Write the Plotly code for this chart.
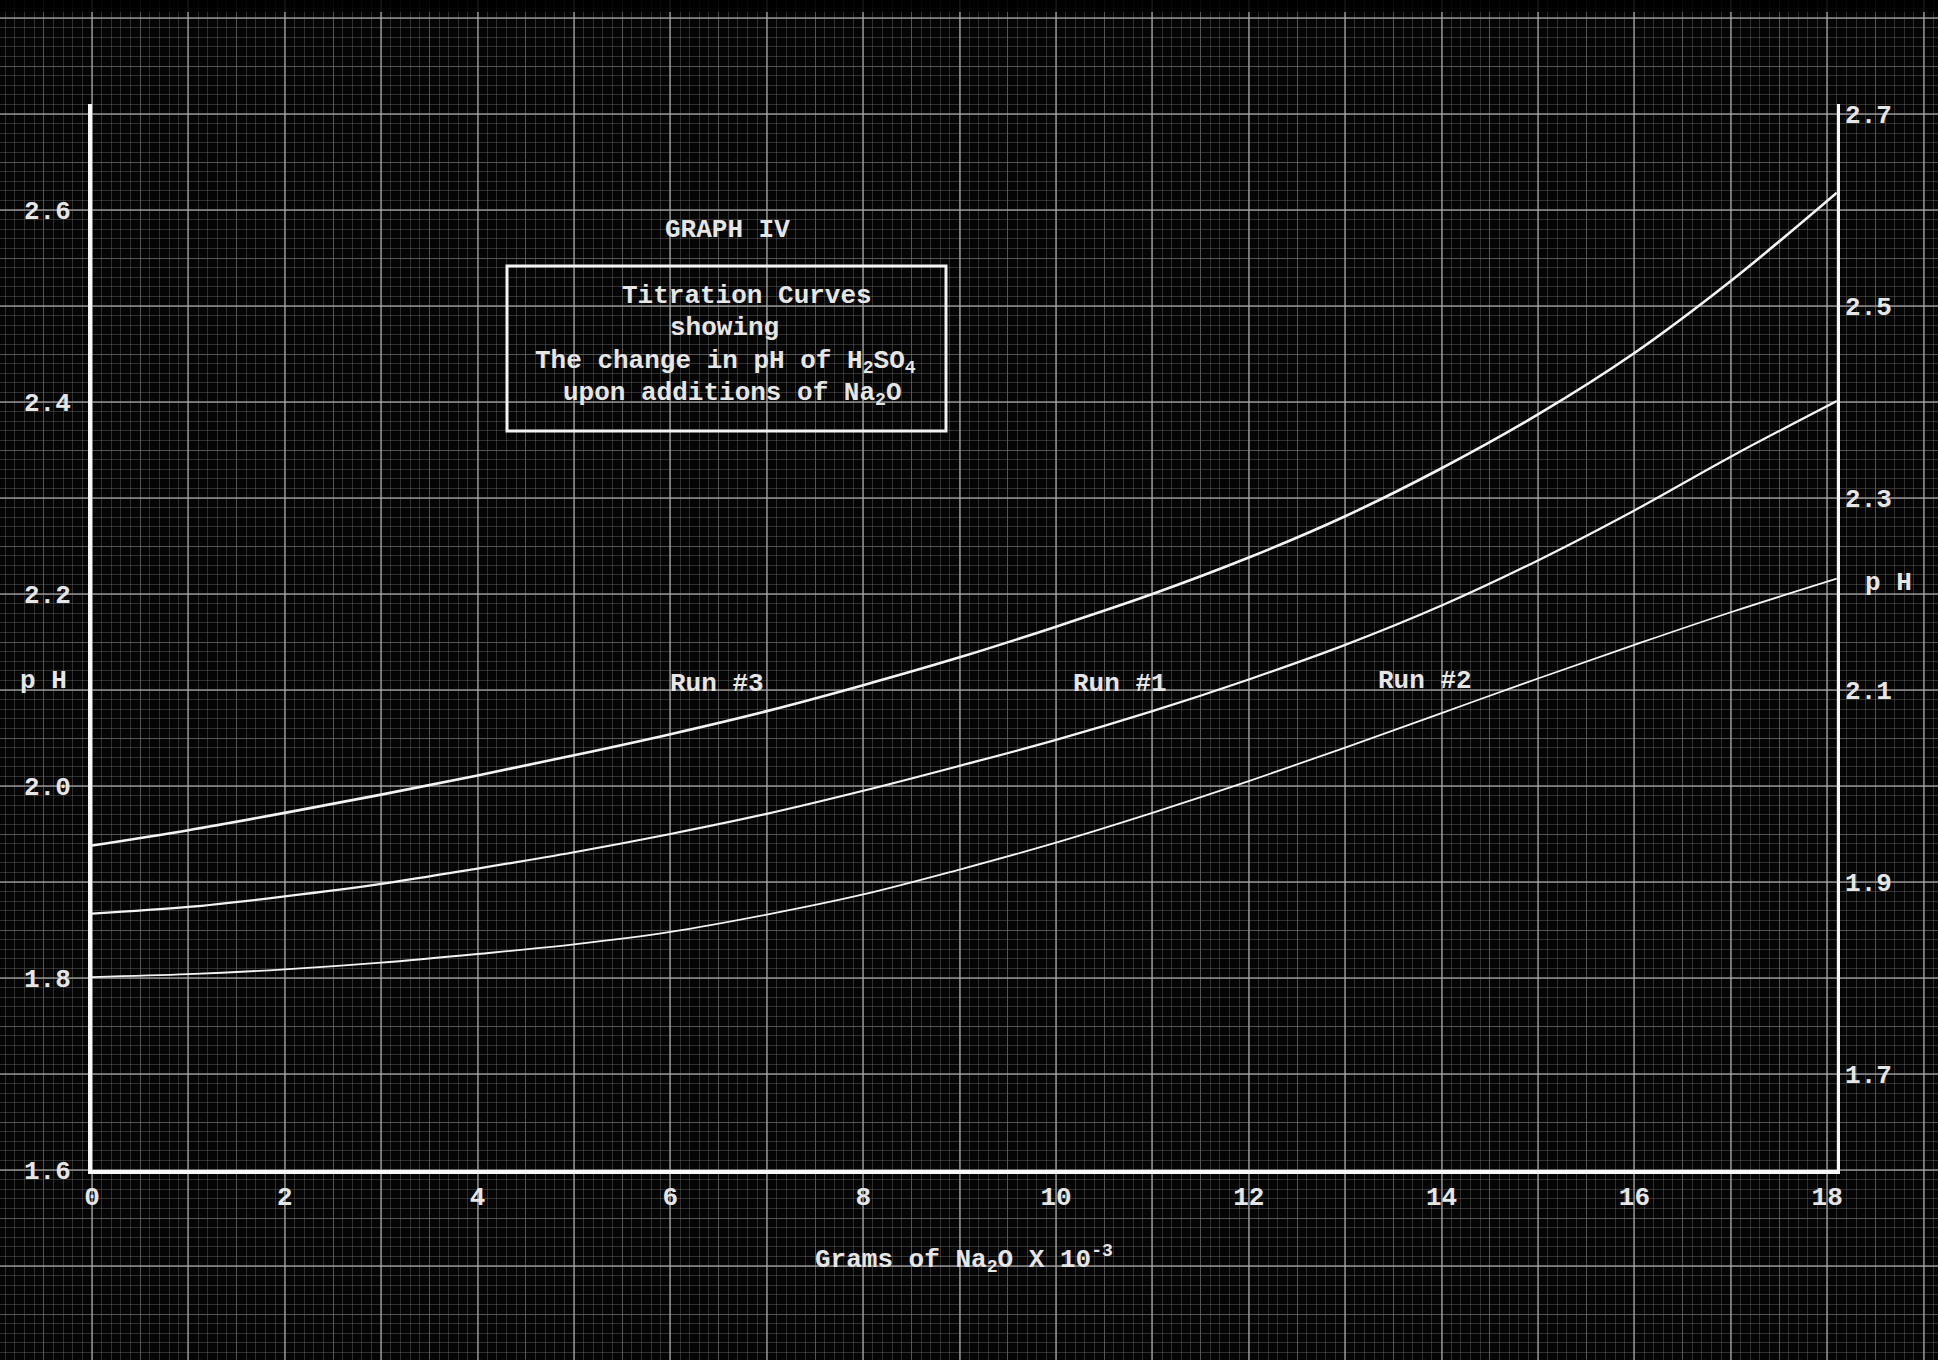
import plotly.graph_objects as go

# Titration readings: grams of Na2O (x 10^-3) added vs. measured pH
grams = [0, 1, 2, 3, 4, 5, 6, 7, 8, 9, 10, 11, 12, 13, 14, 15, 16, 17, 18.1]
ph_run3 = [1.938, 1.954, 1.972, 1.991, 2.011, 2.032, 2.054, 2.078, 2.105, 2.134,
           2.166, 2.200, 2.238, 2.281, 2.331, 2.387, 2.451, 2.526, 2.618]
ph_run1 = [1.867, 1.874, 1.885, 1.898, 1.914, 1.931, 1.950, 1.971, 1.995, 2.021,
           2.048, 2.078, 2.111, 2.147, 2.188, 2.235, 2.287, 2.343, 2.401]
ph_run2 = [1.801, 1.804, 1.809, 1.816, 1.825, 1.835, 1.848, 1.866, 1.887, 1.913,
           1.941, 1.972, 2.005, 2.040, 2.076, 2.112, 2.147, 2.181, 2.216]

x_tick_vals = [0, 2, 4, 6, 8, 10, 12, 14, 16, 18]
left_tick_vals = [1.6, 1.8, 2.0, 2.2, 2.4, 2.6]
right_tick_vals = [1.7, 1.9, 2.1, 2.3, 2.5, 2.7]

run_labels = ["Run #3", "Run #1", "Run #2"]

# ---- page geometry (pixels) ----
W, H = 1938, 1360
X0_PX = 92          # x = 0 on the page
Y0_PX = 1170        # pH = 1.6 on the page
PX_PER_GRAM = 96.4
PX_PER_PH = 960.0
X_RANGE = [0, 18.1]
Y_RANGE = [1.6, 2.71]

TYPE = "Liberation Mono"
INK = "#e6e6e6"
BG = "#050505"


def px_x(g):
    return X0_PX + (g - X_RANGE[0]) * PX_PER_GRAM


def px_y(p):
    return Y0_PX - (p - Y_RANGE[0]) * PX_PER_PH


# plot box as a fraction of the page
dom_x = [px_x(X_RANGE[0]) / W, px_x(X_RANGE[1]) / W]
dom_y = [1 - px_y(Y_RANGE[0]) / H, 1 - px_y(Y_RANGE[1]) / H]

# the graph paper covers the whole page, in the same units as the plot
paper_x = [X_RANGE[0] - X0_PX / PX_PER_GRAM, X_RANGE[0] + (W - X0_PX) / PX_PER_GRAM]
paper_y = [Y_RANGE[0] - (H - Y0_PX) / PX_PER_PH, Y_RANGE[0] + Y0_PX / PX_PER_PH]

fig = go.Figure()

# invisible traces so the graph-paper axes exist
fig.add_trace(go.Scatter(x=[paper_x[0]], y=[paper_y[0]], xaxis="x", yaxis="y",
                         mode="markers", marker=dict(opacity=0), hoverinfo="skip",
                         showlegend=False))
fig.add_trace(go.Scatter(x=[paper_x[0]], y=[paper_y[0]], xaxis="x2", yaxis="y2",
                         mode="markers", marker=dict(opacity=0), hoverinfo="skip",
                         showlegend=False))

# the three titration curves
for ph, width in [(ph_run3, 2.6), (ph_run1, 2.2), (ph_run2, 1.8)]:
    fig.add_trace(go.Scatter(
        x=grams, y=ph, xaxis="x3", yaxis="y3", mode="lines",
        line=dict(color="#f4f4f4", width=width, shape="spline", smoothing=1.0),
        hoverinfo="skip", showlegend=False))

# right-hand pH scale shares the data range
fig.add_trace(go.Scatter(x=[X_RANGE[0]], y=[Y_RANGE[0]], xaxis="x3", yaxis="y4",
                         mode="markers", marker=dict(opacity=0), hoverinfo="skip",
                         showlegend=False))

hidden = dict(showticklabels=False, ticks="", zeroline=False, showline=False,
              automargin=False, fixedrange=True)

FINE = "rgba(110,110,110,0.42)"
MEDIUM = "rgba(150,150,150,0.42)"
MAJOR = "rgba(175,175,175,0.6)"

layout = dict(
    width=W, height=H,
    margin=dict(l=0, r=0, t=0, b=0),
    paper_bgcolor=BG,
    plot_bgcolor="rgba(0,0,0,0)",
    template="none",
    showlegend=False,
    # fine rulings every 0.1 g and 0.01 pH
    xaxis=dict(domain=[0, 1], range=paper_x, showgrid=True, dtick=0.1, tick0=0,
               gridcolor=FINE, gridwidth=1, **hidden),
    yaxis=dict(domain=[0, 1], range=paper_y, showgrid=True, dtick=0.01, tick0=1.6,
               gridcolor=FINE, gridwidth=1, **hidden),
    # heavier rulings every gram / 0.1 pH, medium ones at the halves
    xaxis2=dict(overlaying="x", range=paper_x, showgrid=True, dtick=1, tick0=0,
                gridcolor=MAJOR, gridwidth=1.5,
                minor=dict(dtick=0.5, tick0=0, showgrid=True,
                           gridcolor=MEDIUM, gridwidth=1.2),
                **hidden),
    yaxis2=dict(overlaying="y", range=paper_y, showgrid=True, dtick=0.1, tick0=1.6,
                gridcolor=MAJOR, gridwidth=1.5,
                minor=dict(dtick=0.05, tick0=1.6, showgrid=True,
                           gridcolor=MEDIUM, gridwidth=1.2),
                **hidden),
    xaxis3=dict(domain=dom_x, range=X_RANGE, anchor="y3", showgrid=False,
                zeroline=False, showline=True, linecolor="#f8f8f8", linewidth=4,
                tickmode="array", tickvals=x_tick_vals,
                ticktext=[str(v) for v in x_tick_vals], ticks="",
                ticklabelstandoff=0, automargin=False, fixedrange=True,
                tickfont=dict(family=TYPE, size=26, color=INK, weight="bold")),
    yaxis3=dict(domain=dom_y, range=Y_RANGE, anchor="x3", showgrid=False,
                zeroline=False, showline=True, linecolor="#f8f8f8", linewidth=4,
                tickmode="array", tickvals=left_tick_vals,
                ticktext=[f"{v:.1f}" for v in left_tick_vals], ticks="",
                ticklabelstandoff=12, automargin=False, fixedrange=True,
                tickfont=dict(family=TYPE, size=26, color=INK, weight="bold")),
    yaxis4=dict(overlaying="y3", side="right", anchor="x3", range=Y_RANGE,
                showgrid=False, zeroline=False, showline=True, linecolor="#f8f8f8",
                linewidth=3, tickmode="array", tickvals=right_tick_vals,
                ticktext=[f"{v:.1f}" for v in right_tick_vals], ticks="",
                ticklabelstandoff=0, automargin=False, fixedrange=True,
                tickfont=dict(family=TYPE, size=26, color=INK, weight="bold")),
)
fig.update_layout(**layout)


def page(xp, yp):
    return dict(x=xp / W, y=1 - yp / H, xref="paper", yref="paper")


def note(text, xp, yp, size=26):
    fig.add_annotation(text=text, showarrow=False, xanchor="center", yanchor="middle",
                       font=dict(family=TYPE, size=size, color=INK, weight="bold"),
                       **page(xp, yp))


# title block
note("GRAPH IV", 727, 230)
fig.add_shape(type="rect", xref="paper", yref="paper",
              x0=507 / W, x1=946 / W, y0=1 - 431 / H, y1=1 - 266 / H,
              line=dict(color="#f4f4f4", width=3), fillcolor="rgba(0,0,0,0)",
              layer="above")
note("Titration Curves", 747, 296)
note("showing", 724, 328)
note("The change in pH of H<sub>2</sub>SO<sub>4</sub>", 725, 362)
note("upon additions of Na<sub>2</sub>O", 732, 394)

# curve labels
for label, (xp, yp) in zip(run_labels, [(717, 684), (1120, 684), (1425, 681)]):
    note(label, xp, yp)

# axis titles
note("Grams of Na<sub>2</sub>O X 10<sup>-3</sup>", 964, 1259)
note("p H", 43, 681)
note("p H", 1888, 583)

# dark edge of the sheet along the top
fig.add_shape(type="rect", xref="paper", yref="paper", x0=0, x1=1,
              y0=1 - 12 / H, y1=1, line=dict(width=0),
              fillcolor="rgba(0,0,0,0.85)", layer="above")

fig.write_html("out.html")
